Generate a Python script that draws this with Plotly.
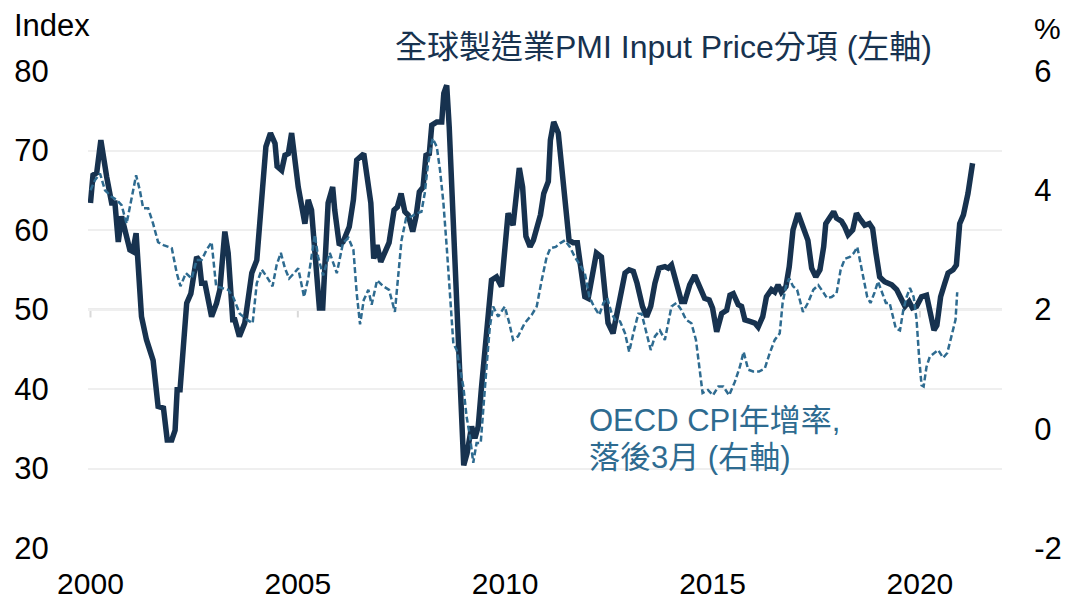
import plotly.graph_objects as go

# Global manufacturing PMI input prices (left axis, index), decimal years
pmi_dates = [
    2000.00, 2000.06, 2000.15, 2000.25, 2000.39, 2000.51, 2000.59, 2000.67, 2000.75, 2000.83,
    2000.95, 2001.02, 2001.10, 2001.23, 2001.35, 2001.51, 2001.63, 2001.76, 2001.85, 2001.96,
    2002.04, 2002.09, 2002.16, 2002.32, 2002.42, 2002.56, 2002.62, 2002.68, 2002.76, 2002.92,
    2003.04, 2003.12, 2003.24, 2003.32, 2003.43, 2003.48, 2003.59, 2003.72, 2003.89, 2004.01,
    2004.13, 2004.23, 2004.34, 2004.45, 2004.50, 2004.61, 2004.69, 2004.77, 2004.85, 2004.93,
    2005.01, 2005.17, 2005.25, 2005.33, 2005.41, 2005.52, 2005.60, 2005.73, 2005.84, 2005.89,
    2006.00, 2006.09, 2006.24, 2006.34, 2006.42, 2006.50, 2006.59, 2006.67, 2006.76, 2006.83,
    2006.91, 2007.00, 2007.10, 2007.20, 2007.32, 2007.40, 2007.49, 2007.58, 2007.66, 2007.77,
    2007.85, 2007.93, 2008.02, 2008.09, 2008.17, 2008.23, 2008.35, 2008.47, 2008.52, 2008.59,
    2008.65, 2008.73, 2008.81, 2008.87, 2008.93, 2009.00, 2009.08, 2009.19, 2009.27, 2009.35,
    2009.43, 2009.55, 2009.67, 2009.79, 2009.91, 2010.07, 2010.19, 2010.34, 2010.42, 2010.50,
    2010.60, 2010.68, 2010.77, 2010.85, 2010.93, 2011.04, 2011.09, 2011.17, 2011.28, 2011.36,
    2011.46, 2011.54, 2011.64, 2011.74, 2011.84, 2011.92, 2012.00, 2012.11, 2012.20, 2012.32,
    2012.40, 2012.48, 2012.60, 2012.70, 2012.81, 2012.89, 2012.99, 2013.09, 2013.18, 2013.31,
    2013.41, 2013.51, 2013.61, 2013.71, 2013.85, 2013.93, 2014.01, 2014.12, 2014.25, 2014.33,
    2014.45, 2014.57, 2014.69, 2014.81, 2014.92, 2015.00, 2015.10, 2015.22, 2015.34, 2015.42,
    2015.50, 2015.62, 2015.70, 2015.78, 2015.90, 2016.02, 2016.10, 2016.21, 2016.30, 2016.42,
    2016.50, 2016.58, 2016.66, 2016.77, 2016.85, 2016.94, 2017.06, 2017.18, 2017.30, 2017.39,
    2017.49, 2017.59, 2017.68, 2017.73, 2017.83, 2017.92, 2017.99, 2018.11, 2018.19, 2018.27,
    2018.38, 2018.47, 2018.57, 2018.67, 2018.78, 2018.86, 2018.94, 2019.03, 2019.15, 2019.32,
    2019.44, 2019.56, 2019.64, 2019.74, 2019.82, 2019.92, 2020.04, 2020.16, 2020.26, 2020.34,
    2020.41, 2020.50, 2020.60, 2020.68, 2020.80, 2020.88, 2020.96, 2021.05, 2021.16, 2021.27,
]
pmi_values = [
    63.4, 66.9, 67.2, 71.3, 66.7, 63.4, 63.4, 58.5, 61.7, 60.0,
    57.5, 57.3, 59.6, 49.1, 46.2, 43.6, 37.8, 37.6, 33.6, 33.6,
    34.8, 39.9, 39.9, 50.8, 52.0, 56.6, 56.2, 53.3, 53.3, 49.1,
    50.8, 52.5, 59.8, 57.1, 48.7, 48.7, 46.6, 48.3, 54.6, 56.2,
    63.8, 70.5, 72.2, 70.9, 68.0, 67.5, 69.4, 69.6, 72.2, 68.8,
    65.4, 60.8, 63.8, 62.5, 57.1, 50.2, 50.2, 63.4, 65.4, 62.5,
    58.1, 58.5, 60.4, 63.8, 68.8, 69.2, 69.6, 66.7, 63.4, 56.4,
    58.1, 56.0, 57.1, 58.4, 62.5, 62.9, 64.6, 62.3, 61.9, 59.8,
    61.7, 64.8, 65.4, 69.4, 69.6, 73.2, 73.6, 73.6, 77.2, 78.2,
    73.0, 62.5, 52.0, 43.6, 35.3, 30.4, 31.9, 35.3, 33.8, 35.3,
    40.3, 46.2, 53.7, 54.1, 52.9, 62.1, 60.6, 67.8, 65.4, 59.2,
    57.9, 58.7, 60.4, 61.9, 64.6, 66.1, 71.3, 73.6, 72.2, 67.5,
    61.7, 58.7, 58.4, 58.4, 54.6, 51.6, 51.4, 54.6, 57.1, 56.6,
    52.9, 48.3, 47.0, 49.5, 52.9, 54.6, 55.0, 54.8, 53.3, 50.4,
    49.1, 50.4, 53.3, 55.2, 55.4, 55.2, 55.6, 53.3, 51.0, 51.0,
    53.1, 54.3, 52.9, 51.4, 51.2, 50.2, 47.2, 49.5, 49.9, 51.8,
    52.0, 50.6, 50.4, 48.7, 48.5, 48.3, 47.8, 49.1, 51.6, 52.5,
    52.2, 53.1, 52.2, 52.9, 55.4, 60.0, 62.1, 60.4, 58.7, 55.2,
    54.1, 55.0, 57.9, 60.8, 61.5, 62.3, 61.5, 61.1, 60.4, 59.4,
    60.0, 62.1, 61.3, 60.6, 60.8, 60.2, 57.1, 54.1, 53.5, 53.1,
    52.5, 51.4, 50.4, 51.0, 50.2, 50.4, 51.6, 51.8, 49.1, 47.4,
    48.0, 51.6, 53.3, 54.6, 55.0, 55.6, 60.8, 61.9, 64.6, 68.4,
]

# OECD CPI y/y, lagged 3 months (right axis, %)
cpi_dates = [
    2000.00, 2000.11, 2000.23, 2000.35, 2000.51, 2000.63, 2000.75, 2000.87, 2000.97, 2001.10,
    2001.19, 2001.27, 2001.39, 2001.51, 2001.63, 2001.76, 2001.88, 2001.96, 2002.08, 2002.17,
    2002.30, 2002.44, 2002.56, 2002.68, 2002.80, 2002.92, 2003.03, 2003.16, 2003.32, 2003.44,
    2003.60, 2003.77, 2003.91, 2004.01, 2004.13, 2004.25, 2004.39, 2004.49, 2004.59, 2004.69,
    2004.79, 2004.91, 2005.01, 2005.15, 2005.25, 2005.41, 2005.49, 2005.61, 2005.77, 2005.94,
    2006.09, 2006.22, 2006.34, 2006.42, 2006.50, 2006.59, 2006.70, 2006.78, 2006.91, 2007.06,
    2007.20, 2007.34, 2007.42, 2007.50, 2007.61, 2007.74, 2007.86, 2007.98, 2008.06, 2008.14,
    2008.25, 2008.35, 2008.43, 2008.51, 2008.59, 2008.67, 2008.75, 2008.83, 2008.91, 2008.99,
    2009.07, 2009.15, 2009.23, 2009.31, 2009.41, 2009.47, 2009.55, 2009.63, 2009.71, 2009.83,
    2009.99, 2010.10, 2010.19, 2010.31, 2010.47, 2010.64, 2010.76, 2010.88, 2011.00, 2011.09,
    2011.22, 2011.32, 2011.44, 2011.56, 2011.68, 2011.80, 2011.92, 2012.03, 2012.14, 2012.27,
    2012.37, 2012.46, 2012.57, 2012.65, 2012.77, 2012.89, 2012.99, 2013.09, 2013.21, 2013.29,
    2013.41, 2013.51, 2013.61, 2013.73, 2013.85, 2013.93, 2014.01, 2014.13, 2014.25, 2014.36,
    2014.49, 2014.60, 2014.68, 2014.76, 2014.89, 2015.01, 2015.14, 2015.26, 2015.40, 2015.54,
    2015.66, 2015.75, 2015.86, 2015.98, 2016.12, 2016.26, 2016.38, 2016.50, 2016.62, 2016.69,
    2016.77, 2016.85, 2016.94, 2017.04, 2017.18, 2017.30, 2017.43, 2017.55, 2017.67, 2017.76,
    2017.87, 2017.99, 2018.09, 2018.19, 2018.31, 2018.41, 2018.49, 2018.57, 2018.65, 2018.73,
    2018.81, 2018.91, 2018.99, 2019.07, 2019.18, 2019.27, 2019.35, 2019.42, 2019.52, 2019.60,
    2019.68, 2019.76, 2019.85, 2019.92, 2019.98, 2020.04, 2020.09, 2020.16, 2020.24, 2020.34,
    2020.44, 2020.56, 2020.66, 2020.76, 2020.86, 2020.90,
]
cpi_values = [
    4.00, 4.17, 4.28, 4.00, 3.89, 3.84, 3.75, 3.44, 3.79, 4.25,
    4.00, 3.70, 3.70, 3.44, 3.13, 3.08, 3.05, 3.03, 2.61, 2.39,
    2.61, 2.52, 2.83, 2.83, 3.00, 3.13, 2.39, 2.36, 2.33, 2.21,
    1.93, 1.83, 1.77, 2.44, 2.67, 2.55, 2.39, 2.75, 2.95, 2.69,
    2.52, 2.61, 2.69, 2.21, 2.52, 3.25, 2.88, 2.57, 2.95, 2.61,
    3.12, 3.20, 3.00, 2.27, 1.75, 2.16, 2.33, 2.08, 2.49, 2.39,
    2.33, 1.96, 2.61, 3.16, 3.53, 3.56, 3.61, 3.64, 3.95, 4.45,
    4.87, 4.73, 4.33, 3.79, 3.05, 2.16, 1.43, 1.32, 1.04, 0.71,
    0.20, -0.13, -0.57, -0.24, -0.24, 0.37, 1.04, 1.71, 2.05, 1.88,
    2.05, 1.77, 1.49, 1.55, 1.77, 1.91, 2.05, 2.49, 2.88, 3.03,
    3.05, 3.11, 3.16, 3.05, 2.88, 2.75, 2.61, 2.21, 2.05, 1.91,
    2.11, 2.19, 1.93, 1.83, 1.80, 1.60, 1.29, 1.60, 1.93, 1.93,
    1.60, 1.32, 1.55, 1.65, 1.49, 1.77, 2.05, 2.11, 1.99, 1.83,
    1.77, 1.49, 1.09, 0.60, 0.65, 0.56, 0.71, 0.71, 0.56, 0.79,
    1.04, 1.29, 0.99, 0.96, 0.96, 1.01, 1.27, 1.49, 1.60, 2.11,
    2.39, 2.52, 2.39, 2.33, 1.96, 2.11, 2.33, 2.41, 2.29, 2.19,
    2.21, 2.27, 2.67, 2.85, 2.88, 2.95, 3.05, 2.77, 2.49, 2.21,
    2.11, 2.29, 2.47, 2.33, 2.11, 2.11, 1.88, 1.68, 1.65, 1.99,
    2.21, 2.36, 2.21, 1.83, 1.21, 0.73, 0.71, 1.04, 1.21, 1.27,
    1.32, 1.19, 1.27, 1.55, 1.83, 2.29,
]

year_ticks = [2000, 2005, 2010, 2015, 2020]
left_ticks = [20, 30, 40, 50, 60, 70, 80]
right_ticks = [-2, 0, 2, 4, 6]
right_labels = ["-2", "0", "2", "4", "6"]

NAVY = "#17324f"
STEEL = "#2e6b90"
FONT = "Liberation Sans, Arial, Noto Sans CJK TC, sans-serif"

fig = go.Figure()

fig.add_trace(go.Scatter(
    x=cpi_dates, y=cpi_values, yaxis="y2", mode="lines",
    line=dict(color=STEEL, width=2.5, dash="6px,3px"),
    name="OECD CPI", showlegend=False,
))
fig.add_trace(go.Scatter(
    x=pmi_dates, y=pmi_values, mode="lines",
    line=dict(color=NAVY, width=5.5),
    name="PMI Input Price", showlegend=False,
))

# axis line crossing at 50 with small year ticks
shapes = [dict(type="line", xref="paper", yref="y", x0=0, x1=1, y0=50, y1=50,
               line=dict(color="#d9d9d9", width=2), layer="below")]
for yr in year_ticks:
    shapes.append(dict(type="line", xref="x", yref="y", x0=yr, x1=yr, y0=50, y1=49,
                       line=dict(color="#d9d9d9", width=2), layer="below"))

fig.update_layout(
    width=1066, height=600,
    margin=dict(l=88, r=64, t=71, b=52),
    plot_bgcolor="white", paper_bgcolor="white",
    font=dict(family=FONT, size=31, color="black"),
    xaxis=dict(
        range=[1999.94, 2021.98], tickvals=year_ticks, showgrid=False, zeroline=False,
        showline=False, ticks="outside", ticklen=9, tickcolor="rgba(0,0,0,0)",
        tickfont=dict(size=30), automargin=False,
    ),
    yaxis=dict(
        range=[20, 80], tickvals=left_ticks, showgrid=True, gridcolor="#efefef", gridwidth=2,
        zeroline=False, ticks="outside", ticklen=32, tickcolor="rgba(0,0,0,0)",
        tickfont=dict(size=31), automargin=False,
    ),
    yaxis2=dict(
        range=[-2, 6], tickvals=right_ticks, ticktext=right_labels, overlaying="y",
        side="right", showgrid=False, zeroline=False, ticks="outside", ticklen=25,
        tickcolor="rgba(0,0,0,0)", tickfont=dict(size=31), automargin=False,
    ),
    shapes=shapes,
    annotations=[
        dict(text="Index", xref="paper", yref="paper", x=-0.083, y=1.095,
             xanchor="left", yanchor="middle", showarrow=False, font=dict(size=31)),
        dict(text="%", xref="paper", yref="paper", x=1.05, y=1.09,
             xanchor="center", yanchor="middle", showarrow=False, font=dict(size=30)),
        dict(text="全球製造業PMI Input Price分項 (左軸)", xref="paper", yref="paper",
             x=0.63, y=1.05, xanchor="center", yanchor="middle", showarrow=False,
             font=dict(size=32, color=NAVY)),
        dict(text="OECD CPI年增率,", xref="paper", yref="paper",
             x=0.546, y=0.268, xanchor="left", yanchor="middle",
             showarrow=False, font=dict(size=31, color=STEEL)),
        dict(text="落後3月 (右軸)", xref="paper", yref="paper",
             x=0.546, y=0.189, xanchor="left", yanchor="middle",
             showarrow=False, font=dict(size=31, color=STEEL)),
    ],
)

fig.write_html(
    "out.html",
    config={"displayModeBar": False},
    post_script="document.body.style.margin='0';document.body.style.overflow='hidden';",
)
